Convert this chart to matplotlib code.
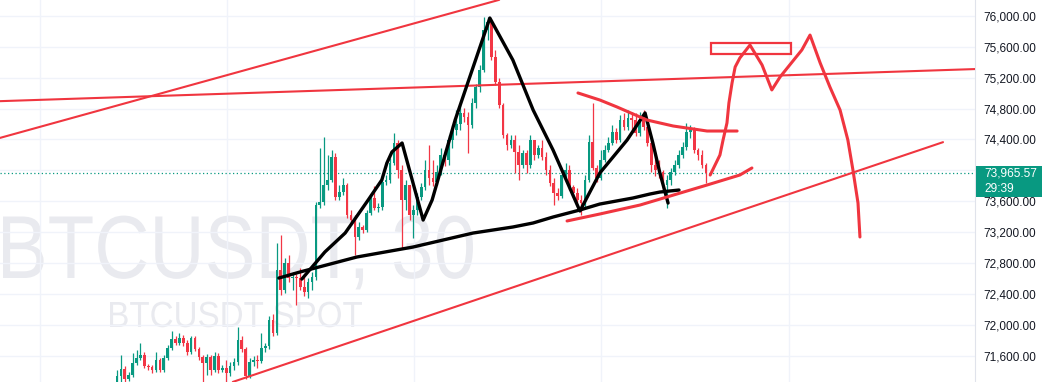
import numpy as np
import matplotlib
matplotlib.use('Agg')
import matplotlib.pyplot as plt
from matplotlib.patches import Rectangle, PathPatch
from matplotlib.textpath import TextPath
from matplotlib.font_manager import FontProperties
from matplotlib.transforms import Affine2D

# BTCUSDT 30m candles (prices)
first_open = 71185
closes = [71340, 71430, 71300, 71355, 71510, 71575, 71615, 71470, 71460, 71420,
          71550, 71420, 71575, 71705, 71820, 71770, 71835, 71770, 71650, 71835,
          71690, 71585, 71510, 71585, 71420, 71600, 71420, 71445, 71380, 71470,
          71520, 71805, 71690, 71340, 71520, 71550, 71535, 71705, 71730, 72065,
          71895, 72710, 72455, 72800, 72610, 72620, 72610, 72490, 72425, 72555,
          72620, 73550, 73590, 73810, 73875, 74175, 73655, 73720, 73810, 73425,
          73360, 73140, 73270, 73230, 73450, 73645, 73515, 73525, 73850, 73875,
          74095, 74355, 74005, 73615, 73810, 73425, 73490, 73655, 73785, 74005,
          73900, 73850, 73980, 74200, 74135, 74395, 74520, 74600, 74740, 74690,
          74585, 74870, 75080, 75300, 75815, 75920, 75465, 75145, 74845, 74455,
          74330, 74395, 74240, 74070, 74225, 74070, 74395, 74200, 74290, 74175,
          74005, 73835, 73705, 73670, 73940, 74005, 73785, 73705, 73615, 73580,
          73875, 74370, 74030, 73900, 74135, 74265, 74355, 74495, 74395, 74650,
          74560, 74680, 74650, 74485, 74650, 74560, 74355, 74070, 74005, 73980,
          73810, 73875, 73980, 74070, 74200, 74300, 74495, 74520, 74265, 74200,
          74070, 73965.57]
highs = [71420, 71615, 71470, 71395, 71640, 71675, 71770, 71650, 71495, 71485,
         71650, 71575, 71615, 71740, 71925, 71860, 71895, 71870, 71805, 71860,
         71860, 71715, 71615, 71625, 71615, 71650, 71640, 71485, 71550, 71520,
         71575, 71975, 71860, 71715, 71575, 71600, 71615, 71895, 71770, 72115,
         72145, 73060, 73165, 72865, 72905, 72685, 72660, 72740, 72620, 72610,
         72685, 73590, 74290, 74430, 74200, 74265, 74225, 73810, 73900, 73835,
         73490, 73425, 73335, 73295, 73490, 73680, 73800, 73580, 73900, 73940,
         74160, 74485, 74395, 74070, 73875, 73810, 73550, 73705, 73835, 74135,
         74330, 74135, 74070, 74290, 74265, 74455, 74585, 74780, 74845, 74805,
         74755, 74935, 75115, 75365, 75985, 75985, 75945, 75555, 75195, 74870,
         74485, 74455, 74455, 74330, 74265, 74265, 74455, 74395, 74330, 74395,
         74240, 74070, 73900, 73770, 74005, 74095, 74070, 73810, 73770, 73680,
         73940, 74455, 74870, 74070, 74265, 74330, 74430, 74585, 74550, 74715,
         74740, 74780, 74755, 74740, 74755, 74780, 74585, 74395, 74200, 74135,
         74005, 73940, 74030, 74135, 74265, 74365, 74615, 74585, 74560, 74290,
         74265, 74095]
lows = [71135, 71265, 71240, 71275, 71330, 71485, 71550, 71445, 71420, 71380,
        71395, 71395, 71395, 71550, 71675, 71740, 71740, 71730, 71615, 71625,
        71665, 71550, 71210, 71355, 71355, 71395, 71380, 71395, 71210, 71340,
        71420, 71485, 71650, 71300, 71315, 71470, 71445, 71510, 71650, 71690,
        71860, 71870, 72390, 72415, 72555, 72455, 72260, 72455, 72375, 72350,
        72455, 72585, 73515, 73550, 73745, 73850, 73615, 73615, 73680, 73385,
        73295, 72905, 73100, 73190, 73205, 73425, 73490, 73460, 73490, 73810,
        73835, 74070, 73900, 72995, 73490, 73360, 73125, 73425, 73615, 73745,
        73810, 73800, 73810, 73940, 74055, 74070, 74290, 74455, 74520, 74625,
        74225, 74550, 74805, 75015, 75270, 75685, 75425, 75105, 74805, 74420,
        74265, 74290, 73965, 73875, 74030, 73965, 74030, 74135, 74160, 74135,
        73940, 73800, 73550, 73615, 73645, 73900, 73745, 73655, 73580, 73425,
        73525, 73850, 74005, 73850, 73875, 74110, 74240, 74330, 74355, 74365,
        74520, 74520, 74520, 74445, 74445, 74520, 74315, 73980, 73925, 73900,
        73745, 73515, 73810, 73940, 74030, 74160, 74265, 74420, 74225, 74135,
        74030, 73840]

last_price = 73965.57
countdown = '29:39'
price_ticks = [71600, 72000, 72400, 72800, 73200, 73600, 74000,
               74400, 74800, 75200, 75600, 76000]
day_lines = [-19.8, 28.2, 76.2, 124.2, 172.2]
symbol_mark = 'BTCUSDT, 30'
symbol_desc = 'BTCUSDT SPOT'

# hand drawings, (bar index, price)
upper_channel = [(-30, 74420), (98, 76205)]
flat_line = [(-30, 74895), (220, 75310)]
lower_channel = [(29.7, 71265), (211.8, 74365)]
neckline = [(41.5, 72608), (46.9, 72686), (61.5, 72880), (75.9, 73009), (91.3, 73190),
            (101.5, 73268), (106.7, 73320), (111.8, 73397), (118.7, 73488),
            (123.8, 73565), (132.3, 73643), (136.7, 73695), (139.2, 73720), (144.1, 73746)]
zigzag = [(47.4, 72595), (53.3, 72945), (58.5, 73190), (64.4, 73617), (67.9, 73876),
          (69.2, 74095), (70.5, 74238), (73.1, 74354), (78.5, 73358), (80.8, 73617),
          (86.7, 74651), (95.6, 75970), (101.5, 75427), (106.7, 74781), (111.8, 74264),
          (118.7, 73475), (123.8, 73966), (130.8, 74393), (135.4, 74742), (137.4, 74354),
          (139.2, 73966), (141.3, 73578)]
support_curve = [(115.4, 73346), (123.8, 73436), (134.1, 73552), (151.3, 73811),
                 (159.7, 73940), (162.8, 74031)]
resist_curve = [(118.2, 75001), (123.8, 74910), (128.2, 74820), (135.9, 74651),
                (142.6, 74574), (151.3, 74509), (159.0, 74509)]
projection = [(152.1, 73940), (154.6, 74199), (155.4, 74393), (156.4, 74613),
              (156.9, 74871), (157.7, 75130), (158.5, 75337), (159.7, 75453),
              (162.3, 75621), (165.4, 75363), (167.9, 75040), (170.0, 75207),
              (173.1, 75401), (175.6, 75557), (177.7, 75750), (180.3, 75389),
              (182.8, 75078), (185.4, 74781), (187.4, 74393), (188.7, 74005),
              (190.0, 73578), (190.5, 73139)]
target_box = [(152.3, 75505), (172.8, 75647)]

UP = '#089981'
DOWN = '#f23645'
RED = '#f0353f'
WM = '#e9eaef'

fig = plt.figure(figsize=(10.42, 3.82), dpi=100)
ax = fig.add_axes([0, 0, 975 / 1042, 1])
ax.set_xlim(-30, 220)
ax.set_ylim(71264, 76203)


def watermark(s, left, baseline, width, cap):
    # text drawn as a path so it can be squeezed to the width seen on screen
    tp = TextPath((0, 0), s, size=1, prop=FontProperties(family='Liberation Sans'))
    ext = tp.get_extents()
    tr = Affine2D().translate(-ext.x0, 0).scale(width / ext.width, cap / 0.716)
    tr = tr.translate(left, baseline)
    p = PathPatch(tr.transform_path(tp), color=WM, lw=0, zorder=0,
                  transform=ax.transAxes)
    ax.add_patch(p)


# sizes in axes fractions (axes is 975 x 382 px)
watermark(symbol_mark, 3 / 975, 104 / 382, 470 / 975, 64 / 382)
watermark(symbol_desc, 110 / 975, 55 / 382, 252 / 975, 26 / 382)

# candles
closes = np.array(closes, dtype=float)
opens = np.concatenate([[first_open], closes[:-1]])
highs = np.maximum(np.array(highs, dtype=float), np.maximum(opens, closes))
lows = np.minimum(np.array(lows, dtype=float), np.minimum(opens, closes))
idx = np.arange(len(closes))
cols = np.where(closes >= opens, UP, DOWN)
ax.vlines(idx, lows, highs, colors=cols, lw=0.9, zorder=2)
body = np.where(np.abs(closes - opens) < 8, 8, closes - opens)
ax.bar(idx, body, bottom=opens, width=0.7, color=cols, lw=0, zorder=3)

# last price line
ax.axhline(last_price, color=UP, lw=0.9, ls=(0, (1, 2)), zorder=1)


def draw(pts, color, lw):
    xs, ys = zip(*pts)
    ax.plot(xs, ys, color=color, lw=lw, solid_capstyle='round',
            solid_joinstyle='round', zorder=5)


draw(upper_channel, RED, 1.5)
draw(flat_line, RED, 1.5)
draw(lower_channel, RED, 1.5)
draw(neckline, 'black', 2.4)
draw(zigzag, 'black', 2.4)
draw(support_curve, RED, 2.2)
draw(resist_curve, RED, 2.2)
draw(projection, RED, 2.2)
(bx0, by0), (bx1, by1) = target_box
ax.add_patch(Rectangle((bx0, by0), bx1 - bx0, by1 - by0, fill=False,
                       edgecolor=RED, lw=1.6, zorder=5))

# grid + axis
ax.set_yticks(price_ticks)
ax.set_yticklabels([f'{p:,.2f}' for p in price_ticks])
ax.set_xticks(day_lines)
ax.set_xticklabels([])
ax.grid(True, color='#f0f3fa', lw=1, zorder=0)
ax.set_axisbelow(True)
ax.yaxis.tick_right()
ax.tick_params(axis='both', length=0)
ax.tick_params(axis='y', pad=6, labelsize=8.5, labelcolor='#131722')
for lab in ax.get_yticklabels():
    lab.set_family('Liberation Sans')
for s in ['top', 'left', 'bottom']:
    ax.spines[s].set_visible(False)
ax.spines['right'].set_color('#e0e3eb')
ax.spines['right'].set_linewidth(0.8)

# price label on the axis
fig.add_artist(Rectangle((976 / 1042, (382 - 197) / 382), 66 / 1042, 31 / 382,
                         transform=fig.transFigure, color=UP, lw=0))
fig.text(984 / 1042, (382 - 173) / 382, f'{last_price:,.2f}', color='white',
         fontsize=8.6, family='Liberation Sans', va='center')
fig.text(984 / 1042, (382 - 189) / 382, countdown, color='white',
         fontsize=8.6, family='Liberation Sans', va='center')

fig.savefig('out.png', dpi=100)
